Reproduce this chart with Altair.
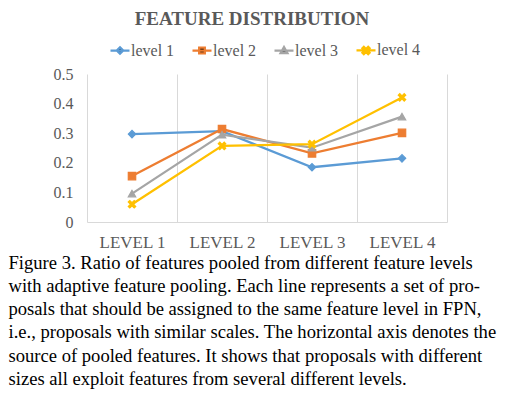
import altair as alt
import pandas as pd

categories = ["LEVEL 1", "LEVEL 2", "LEVEL 3", "LEVEL 4"]
series_names = ["level 1", "level 2", "level 3", "level 4"]
level1 = [0.297, 0.307, 0.185, 0.215]
level2 = [0.155, 0.314, 0.232, 0.301]
level3 = [0.096, 0.295, 0.251, 0.356]
level4 = [0.060, 0.257, 0.263, 0.421]
colors = ["#5B9BD5", "#ED7D31", "#A5A5A5", "#FFC000"]

caption_lines = [
    "Figure 3. Ratio of features pooled from different feature levels",
    "with adaptive feature pooling.  Each line represents a set of pro-",
    "posals that should be assigned to the same feature level in FPN,",
    "i.e., proposals with similar scales. The horizontal axis denotes the",
    "source of pooled features.  It shows that proposals with different",
    "sizes all exploit features from several different levels.",
]

rows = []
for name, vals in zip(series_names, [level1, level2, level3, level4]):
    for c, v in zip(categories, vals):
        rows.append({"source": c, "series": name, "ratio": v})
df = pd.DataFrame(rows)

XPATH = "M-1,-0.6L-0.6,-1L0,-0.4L0.6,-1L1,-0.6L0.4,0L1,0.6L0.6,1L0,0.4L-0.6,1L-1,0.6L-0.4,0Z"
plot_shapes = ["diamond", "square", "triangle-up", XPATH]
XSMALL = "M-0.38,-0.23L-0.23,-0.38L0,-0.15L0.23,-0.38L0.38,-0.23L0.15,0L0.38,0.23L0.23,0.38L0,0.15L-0.23,0.38L-0.38,0.23L-0.15,0Z"
legend_shapes = [
    "M-1,0H1M0,-0.34L0.34,0L0,0.34L-0.34,0Z",
    "M-1,0H1M-0.3,-0.3H0.3V0.3H-0.3Z",
    "M-1,0H1M0,-0.36L0.36,0.28H-0.36Z",
    "M-1,0H1" + XSMALL,
]

serif = "Liberation Serif"
grey_text = "#595959"
grid_col = "#D9D9D9"

x_enc = alt.X(
    "source:N",
    sort=categories,
    scale=alt.Scale(paddingInner=0, paddingOuter=0),
    axis=alt.Axis(
        title=caption_lines,
        titleFont=serif,
        titleFontSize=18.6,
        titleFontWeight="normal",
        titleColor="#000000",
        titleLineHeight=23.3,
        titleAlign="left",
        titleAnchor="start",
        titleBaseline="alphabetic",
        titleX=-79,
        titleY=46,
        titleLimit=700,
        labelFont=serif,
        labelFontSize=17,
        labelColor=grey_text,
        labelAngle=0,
        labelPadding=12,
        labelBaseline="top",
        ticks=False,
        domain=True,
        domainColor=grid_col,
        domainWidth=1,
        grid=True,
        gridColor=grid_col,
        gridWidth=1,
        tickBand="extent",
    ),
)
y_enc = alt.Y(
    "ratio:Q",
    scale=alt.Scale(domain=[0, 0.5], nice=False),
    axis=alt.Axis(
        title=None,
        values=[0, 0.1, 0.2, 0.3, 0.4, 0.5],
        format=".1~f",
        labelFont=serif,
        labelFontSize=16,
        labelColor=grey_text,
        labelPadding=14,
        ticks=False,
        domain=False,
        grid=False,
    ),
)
color_scale = alt.Scale(domain=series_names, range=colors)

lines = alt.Chart(df).mark_line(strokeWidth=2.25).encode(
    x=x_enc,
    y=y_enc,
    color=alt.Color("series:N", scale=color_scale, legend=None),
)

points = alt.Chart(df).mark_point(filled=True, size=55, opacity=1, strokeWidth=1.2).encode(
    x=x_enc,
    y=y_enc,
    color=alt.Color("series:N", scale=color_scale, legend=None),
    stroke=alt.Stroke("series:N", scale=color_scale, legend=None),
    shape=alt.Shape("series:N", scale=alt.Scale(domain=series_names, range=plot_shapes), legend=None),
)

legend_layer = alt.Chart(df).transform_filter("false").mark_point(filled=True, strokeWidth=2.25, opacity=1).encode(
    fill=alt.Fill("series:N", scale=alt.Scale(domain=series_names, range=colors), legend=alt.Legend(title=None)),
    stroke=alt.Stroke("series:N", scale=alt.Scale(domain=series_names, range=colors), legend=alt.Legend(title=None)),
    shape=alt.Shape(
        "series:N",
        scale=alt.Scale(domain=series_names, range=legend_shapes),
        legend=alt.Legend(
            title=None,
            orient="none",
            direction="horizontal",
            legendX=22,
            legendY=-35,
            symbolSize=361,
            symbolStrokeWidth=2.25,
            labelFont=serif,
            labelFontSize=16,
            labelColor=grey_text,
            labelOffset=0,
            columnPadding=13,
            padding=0,
        ),
    ),
)

chart = (
    alt.layer(lines, points, legend_layer)
    .resolve_scale(shape="independent", stroke="independent")
    .properties(
        width=360,
        height=148,
        padding={"left": 79, "top": 66, "right": 55, "bottom": 168},
        autosize=alt.AutoSizeParams(type="none"),
        title=alt.TitleParams(
            "FEATURE DISTRIBUTION",
            font=serif,
            fontSize=19,
            fontWeight="bold",
            color=grey_text,
            anchor="middle",
            dx=-15,
            dy=-6,
        ),
    )
    .configure_view(stroke=None)
    .configure_legend(symbolType="circle")
)

chart.save("out.html", embed_options={"renderer": "svg", "actions": False})
